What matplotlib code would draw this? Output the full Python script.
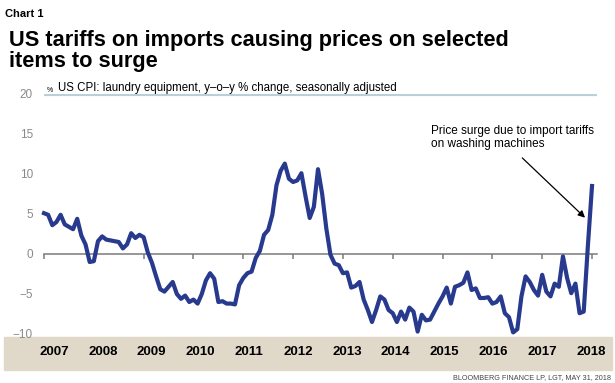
import matplotlib
matplotlib.use('Agg')
import matplotlib.pyplot as plt
import numpy as np
from matplotlib.patches import Rectangle

# US CPI laundry equipment, y-o-y % change, monthly from Jan 2007
cpi = [5.1, 4.9, 3.6, 4.0, 4.9, 3.7, 3.4, 3.1, 4.4, 2.3, 1.2, -1.0,
       -0.9, 1.6, 2.2, 1.8, 1.7, 1.6, 1.5, 0.7, 1.2, 2.6, 2.0, 2.4,
       2.1, 0.2, -1.1, -2.8, -4.4, -4.7, -4.1, -3.5, -5.0, -5.6, -5.2, -6.0,
       -5.7, -6.2, -5.0, -3.3, -2.4, -3.1, -6.0, -5.9, -6.2, -6.2, -6.3, -3.9,
       -3.0, -2.4, -2.2, -0.5, 0.4, 2.4, 3.0, 4.9, 8.6, 10.4, 11.3, 9.4,
       9.0, 9.2, 10.1, 7.2, 4.5, 5.9, 10.6, 7.5, 3.2, -0.1, -1.2, -1.4,
       -2.4, -2.3, -4.2, -4.0, -3.5, -5.7, -7.0, -8.5, -7.0, -5.3, -5.7, -7.0,
       -7.4, -8.5, -7.2, -8.2, -6.7, -7.2, -9.7, -7.6, -8.3, -8.2, -7.2, -6.2,
       -5.3, -4.2, -6.2, -4.1, -3.9, -3.6, -2.3, -4.5, -4.3, -5.5, -5.5, -5.4,
       -6.2, -6.0, -5.3, -7.4, -7.9, -9.8, -9.4, -5.3, -2.8, -3.5, -4.5, -5.2,
       -2.6, -4.7, -5.3, -3.7, -4.1, -0.3, -3.0, -4.9, -3.7, -7.4, -7.2, 1.0,
       8.5]
years = list(range(2007, 2019))
yticks = [-10, -5, 0, 5, 10, 15, 20]

plt.rcParams['font.family'] = ['Liberation Sans', 'DejaVu Sans']

t = 2007 + np.arange(len(cpi)) / 12

fig = plt.figure(figsize=(6.15, 3.83), dpi=100)
ax = fig.add_axes([44 / 615, 1 - 338 / 383, 553 / 615, 244 / 383])

# beige band behind the year labels
fig.patches.append(Rectangle((4 / 615, 13 / 383), 608 / 615, 33 / 383,
                             transform=fig.transFigure, color='#e0d8c8', zorder=-1))

ax.plot(t, cpi, color='#283a8e', lw=3, solid_joinstyle='round', clip_on=False, zorder=3)
ax.axhline(20, color='#bccfd8', lw=2.3, zorder=1)

ax.set_xlim(2007, 2018.1)
ax.set_ylim(-10.5, 20)

for s in ['left', 'right', 'top']:
    ax.spines[s].set_visible(False)
ax.spines['bottom'].set_position(('data', 0))
ax.spines['bottom'].set_color('#7a7a7a')
ax.spines['bottom'].set_linewidth(1.1)
ax.set_xticks(years)
ax.tick_params(axis='x', direction='out', length=3.5, width=1.1, color='#7a7a7a',
               labelbottom=False)
ax.set_yticks(yticks)
ax.tick_params(axis='y', length=0, pad=8, labelsize=8.5, labelcolor='#8a8a8a')
ax.patch.set_alpha(0)

# year labels in the band
label_x = np.linspace(2007.2, 2017.98, len(years))
for x, yr in zip(label_x, years):
    ax.text(x, -14 / 244, str(yr), transform=ax.get_xaxis_transform(),
            ha='center', va='center', fontsize=9.5, fontweight='bold', color='black')

fig.text(5 / 615, 1 - 17 / 383, 'Chart 1', fontsize=8, fontweight='bold', va='baseline')
fig.text(9 / 615, 1 - 46 / 383, 'US tariffs on imports causing prices on selected',
         fontsize=15.7, fontweight='bold', va='baseline')
fig.text(9 / 615, 1 - 66.5 / 383, 'items to surge', fontsize=15.7, fontweight='bold',
         va='baseline')
fig.text(47 / 615, 1 - 91.5 / 383, '%', fontsize=5, va='baseline')
fig.text(58 / 615, 1 - 91.5 / 383,
         'US CPI: laundry equipment, y\u2013o\u2013y % change, seasonally adjusted',
         fontsize=8.3, va='baseline')

fig.text(431 / 615, 1 - 134 / 383, 'Price surge due to import tariffs',
         fontsize=8.5, va='baseline')
fig.text(431 / 615, 1 - 147 / 383, 'on washing machines', fontsize=8.5, va='baseline')
ax.annotate('', xy=(2017.9, 4.3), xytext=(2016.56, 12.25),
            arrowprops=dict(arrowstyle='-|>', color='black', lw=0.9, mutation_scale=10))

fig.text(611 / 615, 3.5 / 383, 'BLOOMBERG FINANCE LP, LGT, MAY 31, 2018',
         fontsize=5.2, ha='right', va='baseline', color='#444444')

fig.savefig('out.png', dpi=100)
